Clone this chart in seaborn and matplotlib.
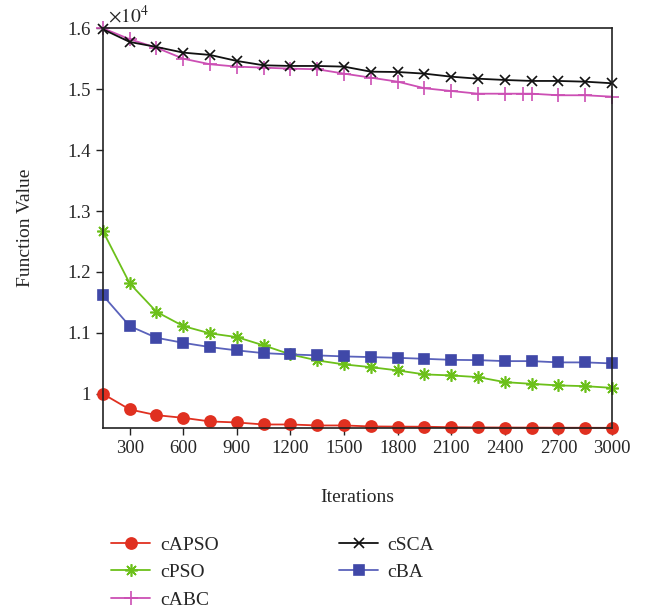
import numpy as np
import pandas as pd
import seaborn as sns
import matplotlib.pyplot as plt
from matplotlib.ticker import FuncFormatter

# iterations (150 step)
iters = list(range(150, 3001, 150))
# cABC has one extra sample between 2400 and 2550
iters_abc = iters[:16] + [2500] + iters[16:]

capso = [10000, 9744, 9650, 9606, 9547, 9530, 9497, 9497, 9481, 9481,
         9465, 9462, 9460, 9452, 9449, 9447, 9446, 9444, 9443, 9442]
cpso = [12672, 11813, 11346, 11112, 10992, 10931, 10795, 10647, 10548, 10483,
        10438, 10384, 10319, 10302, 10274, 10192, 10164, 10138, 10126, 10098]
cabc = [16000, 15820, 15680, 15500, 15409, 15370, 15353, 15337, 15327, 15255,
        15189, 15123, 15015, 14970, 14926, 14926, 14926, 14926, 14900, 14900, 14877]
csca = [15984, 15775, 15693, 15600, 15562, 15463, 15392, 15381, 15381, 15370,
        15287, 15282, 15255, 15205, 15172, 15151, 15135, 15135, 15123, 15097]
cba = [11616, 11112, 10920, 10837, 10767, 10713, 10668, 10647, 10631, 10614,
       10603, 10591, 10575, 10558, 10553, 10537, 10537, 10516, 10516, 10499]

sns.set_style('white')
plt.rcParams['font.family'] = ['Liberation Serif', 'DejaVu Serif']
plt.rcParams['mathtext.fontset'] = 'stix'

fig = plt.figure(figsize=(6.47, 6.14), dpi=100)
ax = fig.add_axes([0.159, 0.303, 0.787, 0.651])

series = [
    ('cAPSO', iters, capso, '#e03020', '#e03020', 'o', 8),
    ('cPSO', iters, cpso, '#6cc01a', '#6cc01a', (8, 2, 0), 9),
    ('cABC', iters_abc, cabc, '#cc4fb4', '#cc4fb4', '+', 10),
    ('cSCA', iters, csca, '#111111', '#111111', 'x', 7),
    ('cBA', iters, cba, '#5a62bb', '#4048a8', 's', 7),
]

for name, xs, ys, lc, mc, mk, ms in series:
    df = pd.DataFrame({'Iterations': xs, 'Value': ys})
    sns.lineplot(data=df, x='Iterations', y='Value', ax=ax, color=lc, marker=mk,
                 markersize=ms, markerfacecolor=mc, markeredgecolor=mc,
                 markeredgewidth=1.2, linewidth=1.3, label=name, clip_on=False)

ax.set_xlim(150, 3000)
ax.set_ylim(9440, 16000)
ax.set_xticks(range(300, 3001, 300))
ax.set_yticks([10000, 11000, 12000, 13000, 14000, 15000, 16000])
ax.yaxis.set_major_formatter(FuncFormatter(lambda v, p: f'{v/1e4:g}'))
ax.tick_params(axis='both', direction='out', length=5, width=1, labelsize=13.5,
               bottom=True, left=True, color='#222222')
for s in ax.spines.values():
    s.set_color('#222222')
    s.set_linewidth(1.2)
ax.set_xlabel('Iterations', fontsize=14, labelpad=23)
ax.set_ylabel('Function Value', fontsize=14, labelpad=24)
ax.text(0.01, 1.005, r'$\times 10^4$', transform=ax.transAxes, fontsize=14,
        ha='left', va='bottom')

ax.get_legend().remove()
h, l = ax.get_legend_handles_labels()
fig.legend(h, l, loc='upper left', bbox_to_anchor=(0.145, 0.155), ncol=2,
           frameon=False, fontsize=14, handlelength=2.0, handletextpad=0.5,
           columnspacing=6.2, labelspacing=0.5)

fig.savefig('out.png', dpi=100)
plt.close(fig)
